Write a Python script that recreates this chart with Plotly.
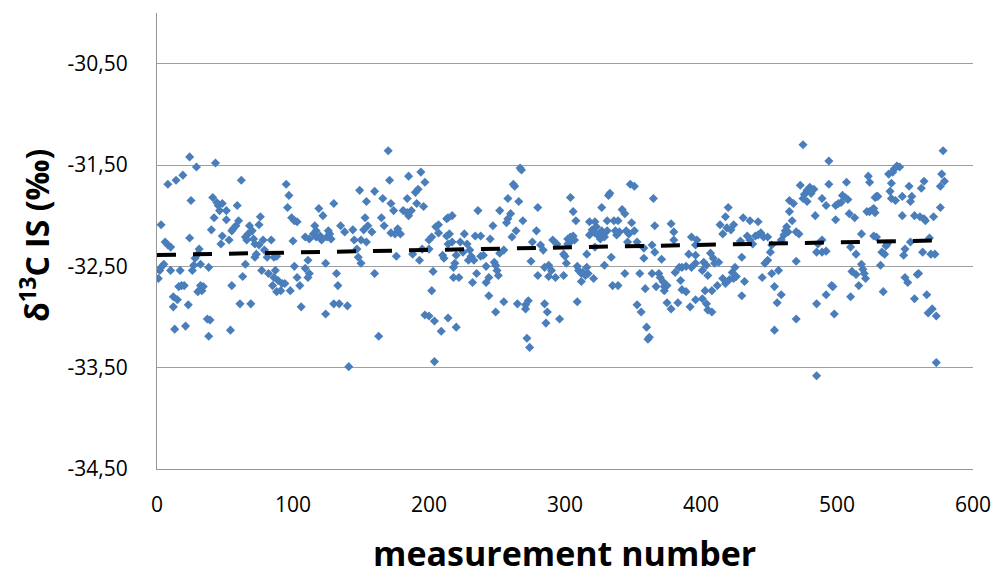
import numpy as np
import plotly.graph_objects as go

seg_000_095 = [
    (24,-31.42),(29,-31.52),(43,-31.48),(8,-31.69),(14,-31.65),(19,-31.60),(62,-31.65),(25,-31.85),
    (41,-31.82),(44,-31.87),(45,-31.90),(48,-31.88),(46,-31.95),(51,-31.95),(59,-31.90),(42,-32.02),
    (51,-32.04),(3,-32.09),(60,-32.05),(58,-32.10),(56,-32.13),(55,-32.15),(40,-32.14),(48,-32.20),
    (53,-32.24),(47,-32.28),(24,-32.22),(68,-32.10),(70,-32.15),(67,-32.18),(65,-32.21),(66,-32.24),
    (71,-32.23),(76,-32.01),(75,-32.09),(6,-32.26),(8,-32.29),(10,-32.31),(72,-32.28),(75,-32.29),
    (78,-32.24),(84,-32.24),(79,-32.34),(73,-32.38),(72,-32.41),(31,-32.33),(30,-32.38),(28,-32.42),
    (86,-32.41),(88,-32.40),(81,-32.41),(5,-32.48),(3,-32.51),(2,-32.54),(1,-32.62),(10,-32.54),
    (17,-32.54),(26,-32.54),(27,-32.49),(32,-32.48),(38,-32.51),(65,-32.48),(63,-32.60),(77,-32.54),
    (82,-32.57),(87,-32.54),(86,-32.61),(89,-32.64),(92,-32.67),(85,-32.69),(88,-32.75),(91,-32.74),
    (16,-32.70),(18,-32.69),(20,-32.69),(32,-32.69),(34,-32.70),(33,-32.74),(30,-32.75),(55,-32.69),
    (12,-32.80),(15,-32.83),(12,-32.90),(23,-32.88),(61,-32.87),(69,-32.87),(37,-33.02),(39,-33.03),
    (13,-33.12),(21,-33.09),(54,-33.13),(38,-33.19),
]
seg_095_196 = [
    (170,-31.36),(95,-31.69),(97,-31.80),(96,-31.92),(99,-32.02),(101,-32.05),(103,-32.06),(100,-32.25),
    (119,-31.93),(122,-32.00),(130,-31.88),(149,-31.75),(154,-31.86),(160,-31.76),(166,-31.83),(171,-31.65),
    (172,-31.88),(174,-31.95),(185,-31.61),(194,-31.57),(190,-31.77),(192,-31.74),(184,-31.83),(191,-31.88),
    (181,-31.95),(184,-31.97),(187,-31.95),(185,-32.00),(153,-32.02),(165,-32.02),(167,-32.10),(152,-32.14),
    (155,-32.10),(158,-32.16),(172,-32.17),(177,-32.13),(179,-32.18),(175,-32.18),(135,-32.10),(138,-32.16),
    (144,-32.14),(145,-32.24),(150,-32.24),(154,-32.26),(116,-32.10),(117,-32.15),(115,-32.18),(117,-32.21),
    (120,-32.20),(121,-32.24),(126,-32.15),(127,-32.18),(125,-32.21),(128,-32.23),(109,-32.21),(112,-32.23),
    (147,-32.33),(148,-32.41),(150,-32.47),(176,-32.40),(188,-32.38),(193,-32.44),(195,-32.33),(111,-32.44),
    (109,-32.52),(124,-32.47),(101,-32.50),(112,-32.57),(111,-32.61),(103,-32.61),(105,-32.69),(94,-32.67),
    (98,-32.74),(132,-32.57),(133,-32.69),(160,-32.57),(130,-32.87),(134,-32.87),(140,-32.89),(106,-32.90),
    (124,-32.97),(163,-33.19),(141,-33.49),(197,-32.98),
]
seg_196_295 = [
    (197,-31.67),(196,-31.91),(267,-31.53),(268,-31.55),(262,-31.69),(263,-31.71),(258,-31.83),(266,-31.86),
    (252,-31.95),(260,-31.98),(258,-32.03),(257,-32.07),(280,-31.92),(269,-32.05),(236,-31.95),(217,-32.00),
    (214,-32.02),(213,-32.03),(207,-32.09),(205,-32.11),(247,-32.10),(264,-32.15),(279,-32.15),(261,-32.21),
    (207,-32.17),(213,-32.20),(215,-32.18),(214,-32.28),(217,-32.26),(200,-32.24),(202,-32.21),(200,-32.33),
    (226,-32.18),(223,-32.26),(234,-32.20),(238,-32.20),(245,-32.23),(228,-32.28),(225,-32.36),(230,-32.34),
    (231,-32.40),(229,-32.44),(233,-32.44),(238,-32.40),(240,-32.39),(252,-32.37),(255,-32.34),(248,-32.46),
    (210,-32.39),(211,-32.42),(220,-32.39),(276,-32.26),(282,-32.29),(284,-32.34),(275,-32.45),(291,-32.24),
    (294,-32.28),(219,-32.47),(218,-32.51),(203,-32.55),(218,-32.61),(222,-32.61),(235,-32.57),(232,-32.66),
    (242,-32.50),(244,-32.61),(249,-32.49),(250,-32.54),(251,-32.59),(242,-32.66),(285,-32.51),(288,-32.49),
    (290,-32.54),(280,-32.59),(288,-32.60),(293,-32.61),(202,-32.74),(244,-32.79),(255,-32.85),(265,-32.87),
    (271,-32.88),(271,-32.92),(273,-32.84),(285,-32.87),(287,-32.95),(286,-33.06),(249,-32.95),(200,-32.99),
    (204,-33.04),(209,-33.14),(214,-33.01),(220,-33.10),(272,-33.21),(274,-33.30),(204,-33.44),
]
seg_295_394 = [
    (296,-33.02),(304,-31.82),(306,-31.96),(308,-32.05),(304,-32.21),(302,-32.23),(306,-32.20),(307,-32.24),
    (304,-32.26),(302,-32.28),(299,-32.38),(300,-32.40),(301,-32.47),(299,-32.59),(309,-32.50),(310,-32.54),
    (312,-32.57),(313,-32.56),(316,-32.51),(315,-32.59),(317,-32.57),(312,-32.65),(321,-32.62),(309,-32.85),
    (316,-32.38),(318,-32.06),(320,-32.14),(318,-32.19),(322,-32.06),(323,-32.11),(322,-32.17),(324,-32.19),
    (326,-32.23),(327,-32.15),(328,-32.18),(322,-32.31),(327,-31.92),(332,-31.80),(333,-31.78),(331,-32.05),
    (336,-32.05),(339,-32.05),(331,-32.15),(329,-32.21),(337,-32.15),(338,-32.19),(340,-32.16),(334,-32.41),
    (329,-32.49),(348,-31.69),(351,-31.71),(342,-31.94),(344,-31.98),(349,-32.07),(345,-32.15),(347,-32.18),
    (351,-32.15),(346,-32.26),(353,-32.26),(344,-32.57),(335,-32.69),(339,-32.69),(355,-32.57),(358,-32.32),
    (358,-32.42),(365,-31.83),(366,-32.10),(364,-32.29),(366,-32.36),(371,-32.43),(364,-32.57),(369,-32.57),
    (370,-32.61),(367,-32.70),(372,-32.65),(373,-32.70),(375,-32.69),(373,-32.74),(359,-32.72),(353,-32.88),
    (356,-32.95),(360,-33.10),(362,-33.20),(361,-33.22),(378,-32.08),(380,-32.16),(380,-32.24),(375,-32.86),
    (378,-32.92),(383,-32.86),(381,-32.56),(384,-32.51),(386,-32.51),(389,-32.50),(393,-32.51),(385,-32.64),
    (386,-32.73),(389,-32.75),(392,-32.90),(391,-32.38),(393,-32.21),
]
seg_394_494 = [
    (475,-31.30),(494,-31.46),(473,-31.70),(478,-31.75),(476,-31.79),(480,-31.72),(483,-31.74),(475,-31.83),
    (478,-31.86),(481,-31.78),(489,-31.83),(492,-31.90),(465,-31.85),(468,-31.88),(465,-31.96),(467,-32.05),
    (484,-32.00),(420,-31.92),(418,-32.01),(414,-32.09),(419,-32.12),(422,-32.14),(424,-32.09),(416,-32.18),
    (431,-32.02),(436,-32.05),(442,-32.06),(429,-32.25),(434,-32.20),(436,-32.24),(438,-32.28),(440,-32.20),
    (442,-32.19),(444,-32.17),(446,-32.21),(449,-32.21),(463,-32.11),(462,-32.15),(461,-32.19),(459,-32.24),
    (464,-32.16),(470,-32.16),(472,-32.18),(452,-32.29),(451,-32.36),(449,-32.44),(447,-32.47),(430,-32.41),
    (425,-32.51),(423,-32.56),(426,-32.60),(424,-32.62),(421,-32.63),(432,-32.65),(416,-32.62),(418,-32.67),
    (412,-32.69),(407,-32.37),(409,-32.42),(410,-32.47),(413,-32.46),(402,-32.46),(404,-32.49),(401,-32.54),
    (405,-32.59),(396,-32.39),(396,-32.47),(396,-32.29),(397,-32.24),(403,-32.74),(408,-32.74),(396,-32.83),
    (401,-32.82),(404,-32.87),(405,-32.93),(408,-32.95),(430,-32.79),(445,-32.61),(452,-32.57),(457,-32.54),
    (454,-32.70),(459,-32.78),(456,-32.86),(454,-33.13),(470,-32.45),(470,-33.02),(486,-32.28),(489,-32.24),
    (485,-32.36),(489,-32.36),(492,-32.35),(485,-32.87),(492,-32.78),(485,-33.58),(494,-31.69),
]
seg_494_580 = [
    (578,-31.36),(577,-31.59),(579,-31.66),(576,-31.71),(576,-31.92),(544,-31.51),(546,-31.52),(542,-31.54),
    (541,-31.57),(538,-31.59),(523,-31.61),(524,-31.67),(507,-31.67),(540,-31.68),(539,-31.76),(553,-31.71),
    (555,-31.81),(554,-31.86),(548,-31.81),(564,-31.66),(562,-31.73),(529,-31.81),(528,-31.82),(530,-31.81),
    (540,-31.83),(543,-31.85),(504,-31.80),(506,-31.82),(503,-31.87),(501,-31.88),(508,-31.84),(499,-31.90),
    (522,-31.96),(524,-31.96),(527,-31.93),(528,-31.97),(526,-31.94),(509,-31.98),(513,-32.02),(499,-32.04),
    (548,-32.00),(557,-32.00),(561,-32.01),(564,-32.03),(565,-32.05),(571,-32.01),(518,-32.18),(527,-32.20),
    (529,-32.21),(537,-32.28),(533,-32.36),(535,-32.38),(536,-32.30),(550,-32.33),(549,-32.39),(554,-32.26),
    (568,-32.22),(563,-32.36),(569,-32.38),(572,-32.38),(510,-32.31),(514,-32.38),(518,-32.48),(519,-32.53),
    (520,-32.57),(521,-32.62),(511,-32.55),(514,-32.58),(532,-32.49),(550,-32.61),(552,-32.66),(559,-32.58),
    (560,-32.57),(496,-32.69),(497,-32.70),(516,-32.69),(510,-32.80),(534,-32.75),(557,-32.82),(566,-32.78),
    (567,-32.96),(570,-32.92),(573,-32.99),(498,-32.97),(573,-33.45),
]

x_ticks = [0, 100, 200, 300, 400, 500, 600]
y_ticks = [-34.5, -33.5, -32.5, -31.5, -30.5]
y_tick_labels = ["-34,50", "-33,50", "-32,50", "-31,50", "-30,50"]

points = seg_000_095 + seg_095_196 + seg_196_295 + seg_295_394 + seg_494_580 + seg_394_494
xs = np.array([p[0] for p in points], dtype=float)
ys = np.array([p[1] for p in points], dtype=float)

# linear trendline (least squares) over the data range
slope, intercept = np.polyfit(xs, ys, 1)
tx = np.array([xs.min() - 1, xs.max() + 1])
ty = slope * tx + intercept

fig = go.Figure()
fig.add_trace(go.Scatter(
    x=xs, y=ys, mode="markers",
    marker=dict(symbol="diamond", size=7, color="#4A7EBB", line=dict(width=0)),
    showlegend=False, hoverinfo="x+y",
))
fig.add_trace(go.Scatter(
    x=tx, y=ty, mode="lines",
    line=dict(color="black", width=4, dash="19px,17px"),
    showlegend=False, hoverinfo="skip",
))

# page body has an 8px default margin: figure is sized/offset so the plot area lands
# at page x 157..973, y 13..469
fig.update_layout(
    width=998, height=563,
    margin=dict(l=149, r=33, t=5, b=102),
    paper_bgcolor="white", plot_bgcolor="white",
    font=dict(family="Open Sans", color="#000000"),
    xaxis=dict(
        range=[0, 600], tickvals=x_ticks, ticks="", showgrid=False, zeroline=False,
        showline=True, linecolor="#969696", linewidth=1,
        tickfont=dict(size=21, family="Open Sans"), ticklabelstandoff=17,
    ),
    yaxis=dict(
        range=[-34.5, -30.0], tickvals=y_ticks, ticktext=y_tick_labels, ticks="",
        showgrid=True, gridcolor="#A0A0A0", gridwidth=1, zeroline=False,
        showline=True, linecolor="#969696", linewidth=1,
        tickfont=dict(size=21, family="Open Sans"), ticklabelstandoff=24,
    ),
    annotations=[
        dict(text="measurement number", xref="paper", yref="paper",
             x=(564 - 157) / 816, y=(469 - 553) / 456, xanchor="center", yanchor="middle",
             showarrow=False, font=dict(size=34, family="Open Sans", color="#000000", weight="bold")),
        dict(text="δ<sup>13</sup>C IS (‰)", xref="paper", yref="paper",
             x=(35 - 157) / 816, y=(469 - 236) / 456, xanchor="center", yanchor="middle",
             textangle=-90, showarrow=False,
             font=dict(size=32, family="Open Sans", color="#000000", weight="bold")),
    ],
)

fig.write_html("out.html")
